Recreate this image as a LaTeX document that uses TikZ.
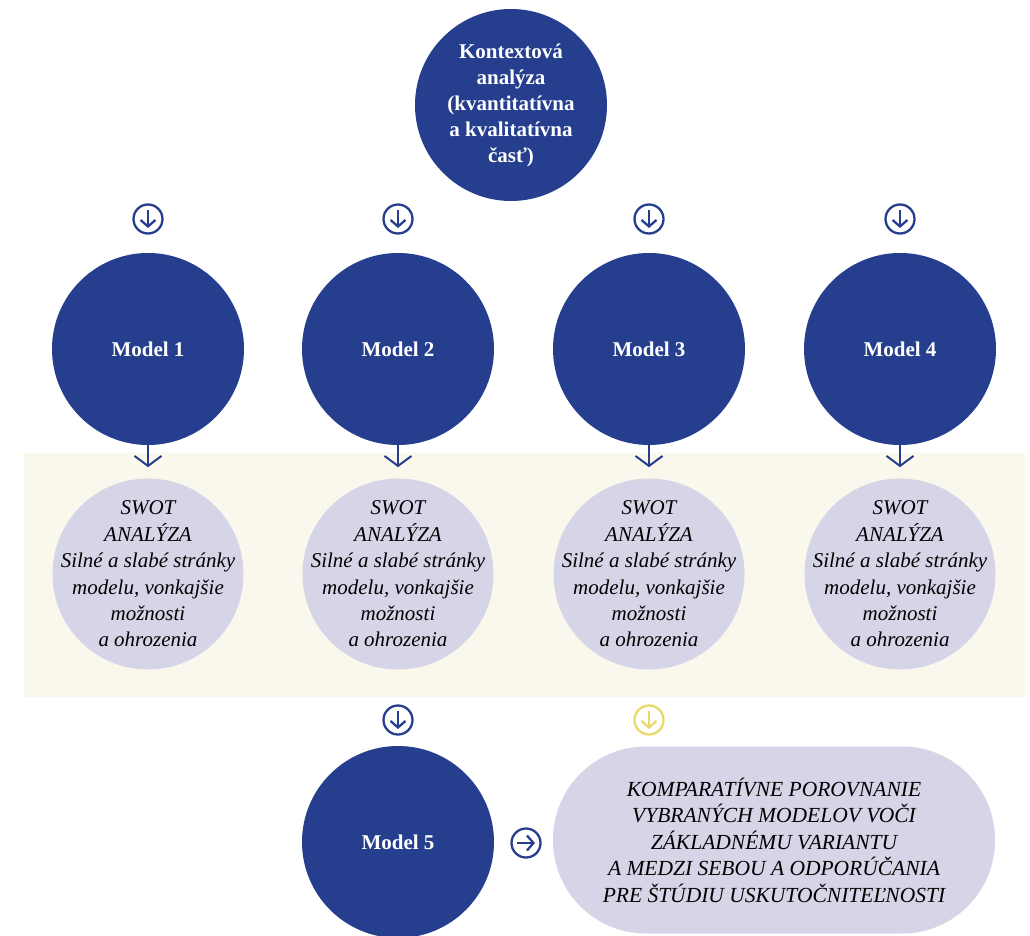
\documentclass[tikz,border=0pt]{standalone}
\usepackage{fontspec}
\setmainfont{Liberation Serif}
\usetikzlibrary{arrows.meta,positioning}

\definecolor{modelblue}{HTML}{253F8E}
\definecolor{swotlilac}{HTML}{D6D5E8}
\definecolor{bandcream}{HTML}{FAF8EC}
\definecolor{signyellow}{HTML}{E8D96A}

\tikzset{
  model/.style = {circle, fill=modelblue, minimum size=192pt, inner sep=-40pt,
    text=white, align=center, font=\bfseries\fontsize{21}{26}\selectfont},
  swot/.style = {circle, fill=swotlilac, minimum size=191pt, inner sep=-45pt,
    align=center, font=\itshape\fontsize{21}{26.4}\selectfont},
  pill/.style = {rectangle, rounded corners=93pt, fill=swotlilac,
    minimum width=442pt, minimum height=187pt, inner sep=0pt,
    align=center, font=\itshape\fontsize{21.5}{26.5}\selectfont},
  sign/.style = {circle, draw=#1, line width=2.3pt, minimum size=29pt, inner sep=0pt},
  signtip/.style = {draw=#1, line width=2.3pt, -{Straight Barb[length=6.5pt,width=15pt]}},
  drop/.style = {draw=modelblue, line width=2pt, -{Straight Barb[length=10pt,width=27pt]}},
}

\begin{document}
\begin{tikzpicture}[x=1pt, y=-1pt]
  \clip (0,0) rectangle (1030,936);
  \fill[white] (0,0) rectangle (1030,936);
  \fill[bandcream] (24,453) rectangle (1025,697);

  \node[model] (kontext) at (511,105)
    {Kontextová\\analýza\\(kvantitatívna\\a kvalitatívna\\časť)};

  \foreach \i/\x in {1/148, 2/398, 3/649, 4/900} {
    \node[sign=modelblue] (s\i) at (\x,219) {};
    \draw[signtip=modelblue] (s\i.center) ++(0,-9) -- ++(0,18);
    \node[model] (m\i) at (\x,349) {Model \i};
    \draw[drop] (m\i.south) -- ++(0,22);
    \node[swot] (swot\i) at (\x,574)
      {SWOT\\ANALÝZA\\Silné a slabé stránky\\modelu, vonkajšie\\možnosti\\a ohrozenia};
  }

  % spodny rad
  \node[sign=modelblue] (t1) at (398,720) {};
  \draw[signtip=modelblue] (t1.center) ++(0,-9) -- ++(0,18);
  \node[sign=signyellow] (t2) at (649,720) {};
  \draw[signtip=signyellow] (t2.center) ++(0,-9) -- ++(0,18);

  \node[model] (m5) at (398,842) {Model 5};
  \node[sign=modelblue] (r1) at (526,843) {};
  \draw[signtip=modelblue] (r1.center) ++(-9,0) -- ++(18,0);

  \node[pill] (porovnanie) at (774,840)
    {KOMPARATÍVNE POROVNANIE\\VYBRANÝCH MODELOV VOČI\\ZÁKLADNÉMU VARIANTU\\A MEDZI SEBOU A ODPORÚČANIA\\PRE ŠTÚDIU USKUTOČNITEĽNOSTI};
\end{tikzpicture}
\end{document}
